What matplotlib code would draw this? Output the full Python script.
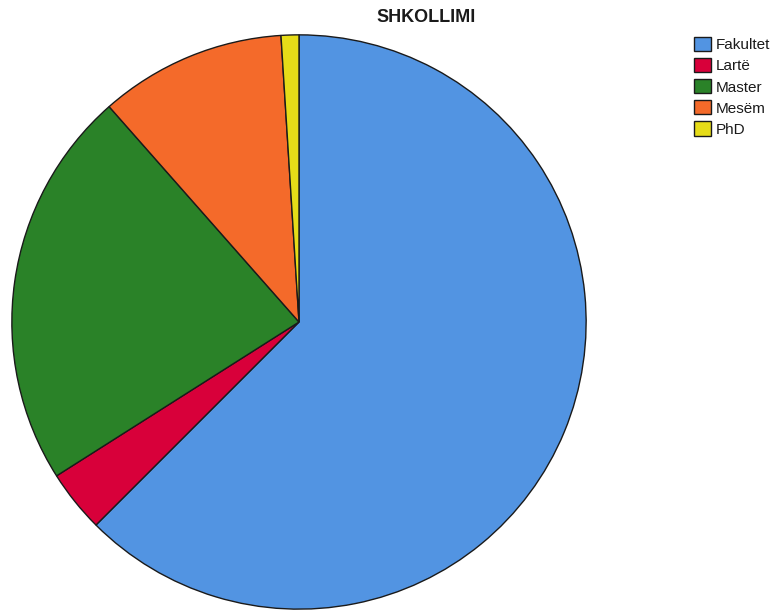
import matplotlib
matplotlib.use("Agg")
import matplotlib.pyplot as plt

# Education level counts
categories = ["Fakultet", "Lartë", "Master", "Mesëm", "PhD"]
counts = [125, 7, 45, 21, 2]
colors = ["#5294E2", "#D8003A", "#2A8228", "#F46A2A", "#E6DC18"]

plt.rcParams["font.family"] = ["Liberation Sans", "DejaVu Sans"]

fig = plt.figure(figsize=(7.78, 6.11), dpi=100)
ax = fig.add_axes([11 / 778, 1 / 611, 576 / 778, 576 / 611])

wedges, _ = ax.pie(
    counts,
    colors=colors,
    startangle=90,
    counterclock=False,
    radius=1.0,
    wedgeprops=dict(edgecolor="#1a1a1a", linewidth=1.0),
)
ax.set_xlim(-1.003, 1.003)
ax.set_ylim(-1.003, 1.003)
ax.set_aspect("equal")
ax.axis("off")

fig.text(426 / 778, 1 - 18 / 611, "SHKOLLIMI", ha="center", va="center",
         fontsize=13, fontweight="bold", color="#1a1a1a")

leg = fig.legend(
    wedges, categories,
    loc="upper left",
    bbox_to_anchor=(694 / 778, 1 - 37 / 611),
    frameon=False,
    fontsize=11,
    handlelength=1.1,
    handleheight=1.05,
    handletextpad=0.3,
    labelspacing=0.38,
    borderpad=0.0,
    borderaxespad=0.0,
)
for t in leg.get_texts():
    t.set_color("#1a1a1a")

fig.savefig("out.png", dpi=100)
